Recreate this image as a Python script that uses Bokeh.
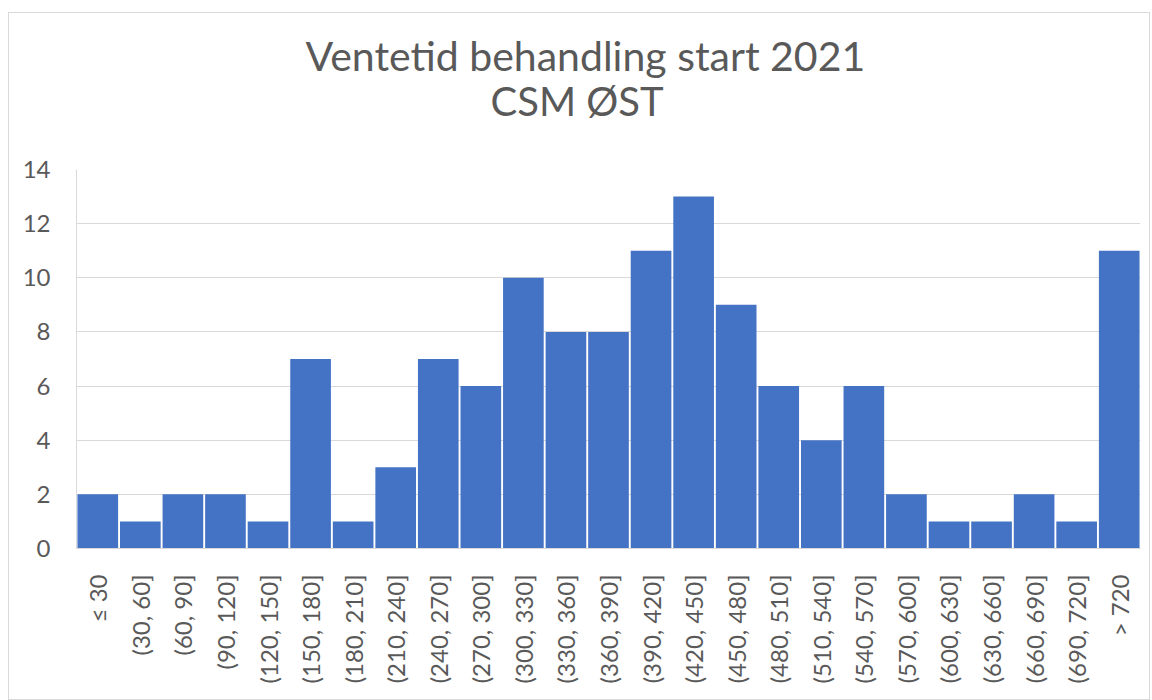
from bokeh.plotting import figure
from bokeh.models import FactorRange, Range1d, Title, FixedTicker
from bokeh.embed import file_html
from bokeh.resources import INLINE
import math

categories = ["≤ 30", "(30, 60]", "(60, 90]", "(90, 120]", "(120, 150]", "(150, 180]",
              "(180, 210]", "(210, 240]", "(240, 270]", "(270, 300]", "(300, 330]",
              "(330, 360]", "(360, 390]", "(390, 420]", "(420, 450]", "(450, 480]",
              "(480, 510]", "(510, 540]", "(540, 570]", "(570, 600]", "(600, 630]",
              "(630, 660]", "(660, 690]", "(690, 720]", "> 720"]
counts = [2, 1, 2, 2, 1, 7, 1, 3, 7, 6, 10, 8, 8, 11, 13, 9, 6, 4, 6, 2, 1, 1, 2, 1, 11]
y_ticks = [0, 2, 4, 6, 8, 10, 12, 14]

FONT = "Lato"
TXT = "#595959"

p = figure(x_range=FactorRange(*categories, range_padding=0), y_range=Range1d(0, 14),
           width=1142, height=688, output_backend="svg", toolbar_location=None,
           min_border_left=67, min_border_right=11, min_border_top=156, min_border_bottom=153,
           title=None,
           styles={"border": "1px solid #d9d9d9", "margin-left": "8px", "margin-top": "12px"})

p.vbar(x=categories, top=counts, width=0.955, fill_color="#4472C4", line_color=None)

p.add_layout(Title(text="CSM ØST", align="left", text_font=FONT, text_font_size="40px",
                   text_line_height=0.8, text_font_style="normal", text_color=TXT,
                   standoff=90, offset=414), "above")
p.add_layout(Title(text="Ventetid behandling start 2021", align="left", text_font=FONT,
                   text_font_size="41px", text_line_height=0.8, text_font_style="normal",
                   text_color=TXT, standoff=-100, offset=229), "above")

p.yaxis.ticker = FixedTicker(ticks=y_ticks)
p.yaxis.major_label_text_font = FONT
p.yaxis.major_label_text_font_size = "24px"
p.yaxis.major_label_text_color = TXT
p.yaxis.axis_line_color = "#d9d9d9"
p.yaxis.major_tick_line_color = None
p.yaxis.minor_tick_line_color = None
p.yaxis.major_label_standoff = 20

p.xaxis.major_label_orientation = math.pi / 2
p.xaxis.major_label_text_font = FONT
p.xaxis.major_label_text_font_size = "24px"
p.xaxis.major_label_text_color = TXT
p.xaxis.axis_line_color = "#d9d9d9"
p.xaxis.major_tick_line_color = None
p.xaxis.minor_tick_line_color = None
p.xaxis.major_label_standoff = 20

p.xgrid.grid_line_color = None
p.ygrid.grid_line_color = "#d9d9d9"
p.ygrid.grid_line_width = 1
p.outline_line_color = None

open("out.html", "w").write(file_html(p, INLINE))
